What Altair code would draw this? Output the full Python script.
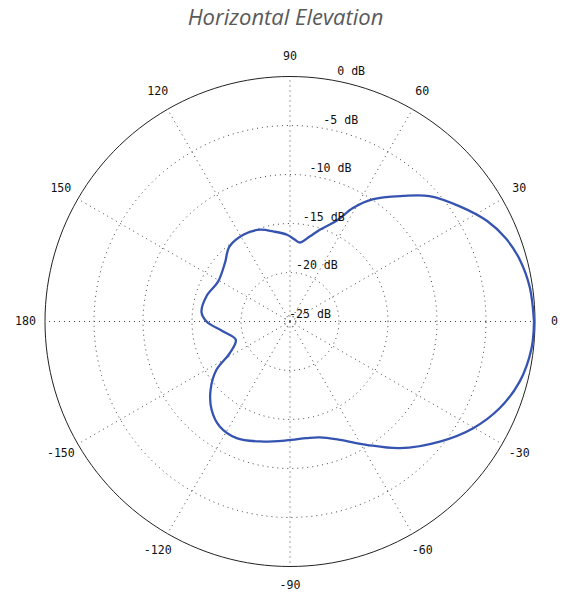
import altair as alt
import pandas as pd
import numpy as np

title_text = "Horizontal Elevation"

# measured antenna pattern (angle in degrees, gain in dB)
angles_deg = [0, 8, 15, 21, 27, 34, 42, 48, 56, 61, 65, 72, 77, 83, 87, 92,
              100.6, 108, 118, 129, 138, 151, 163, 174, 180, 188.5, 198.7,
              207.7, 213.3, 220.7, 228.4, 236.2, 245.4, 255.9, 268.3, 278.1,
              284.4, 292.8, 301.8, 310.9, 321.3, 329.8, 337.6, 345.4, 353.7, 360]
gain_db = [-0.1, -0.28, -0.71, -1.39, -2.42, -4.03, -5.87, -7.76, -9.96, -11.76,
           -13.6, -15.16, -16.1, -16.88, -16.6, -16.14, -15.65, -15.15, -14.95,
           -15.18, -16.07, -16.61, -16.1, -15.92, -16.48, -18.11, -19.16, -18.06,
           -16.02, -14.31, -12.95, -12.11, -11.91, -12.38, -12.86, -12.98, -12.79,
           -11.9, -10.2, -7.9, -5.41, -3.37, -1.84, -0.77, -0.2, -0.1]

# grid
ring_db = [-24.4, -20, -15, -10, -5]
label_db = [-25, -20, -15, -10, -5, 0]
label_db_text = ["-25 dB", "-20 dB", "-15 dB", "-10 dB", "-5 dB", "0 dB"]
spoke_deg = [0, 30, 60, 90, 120, 150, 180, 210, 240, 270, 300, 330]
spoke_text = ["0", "30", "60", "90", "120", "150", "180", "-150", "-120", "-90", "-60", "-30"]

DB_MIN = -25.0
W, H = 551, 586
PX = 245.0             # pixels per unit radius
CX, CY = 282.0, 313.5  # centre inside the plot area

xs = alt.Scale(domain=[-CX / PX, (W - CX) / PX], nice=False, zero=False)
ys = alt.Scale(domain=[-(H - CY) / PX, CY / PX], nice=False, zero=False)

X = alt.X("x:Q", scale=xs, axis=None)
Y = alt.Y("y:Q", scale=ys, axis=None)

FONT = "DejaVu Sans Mono"

# data frames
curve_df = pd.DataFrame({"ang": angles_deg, "db": gain_db, "i": range(len(angles_deg))})

circ_t = np.arange(0, 361, 2)
rings_df = pd.DataFrame([{"db": d, "ang": t, "i": k} for d in ring_db for k, t in enumerate(circ_t)])
outer_df = pd.DataFrame({"db": [0.0] * len(circ_t), "ang": circ_t, "i": range(len(circ_t))})
spokes_df = pd.DataFrame([{"ang": a, "r": r} for a in spoke_deg for r in (0.0, 1.0)])
spoke_lbl_df = pd.DataFrame({"ang": spoke_deg, "txt": spoke_text})
db_lbl_df = pd.DataFrame({"db": label_db, "txt": label_db_text})

polar_x = f"((datum.db - ({DB_MIN})) / ({-DB_MIN})) * cos(datum.ang * PI / 180)"
polar_y = f"((datum.db - ({DB_MIN})) / ({-DB_MIN})) * sin(datum.ang * PI / 180)"

rings = alt.Chart(rings_df).transform_calculate(x=polar_x, y=polar_y).mark_line(
    color="#444", strokeWidth=1, strokeDash=[1, 4]
).encode(x=X, y=Y, detail="db:N", order="i:Q")

spokes = alt.Chart(spokes_df).transform_calculate(
    x="datum.r * cos(datum.ang * PI / 180)", y="datum.r * sin(datum.ang * PI / 180)"
).mark_line(color="#444", strokeWidth=1, strokeDash=[1, 4]).encode(
    x=X, y=Y, detail="ang:N", order="r:Q")

outer = alt.Chart(outer_df).transform_calculate(x=polar_x, y=polar_y).mark_line(
    color="#222", strokeWidth=1
).encode(x=X, y=Y, order="i:Q")

curve = alt.Chart(curve_df).transform_calculate(x=polar_x, y=polar_y).mark_line(
    color="#3553b0", strokeWidth=2.3, interpolate="catmull-rom"
).encode(x=X, y=Y, order="i:Q")

spoke_lbls = alt.Chart(spoke_lbl_df).transform_calculate(
    x="1.08 * cos(datum.ang * PI / 180)", y="1.08 * sin(datum.ang * PI / 180)"
).mark_text(font=FONT, fontSize=11.6, color="#111", align="center", baseline="middle").encode(
    x=X, y=Y, text="txt:N")

db_lbls = alt.Chart(db_lbl_df).transform_calculate(
    x=f"((datum.db - ({DB_MIN})) / ({-DB_MIN})) * cos(82 * PI / 180)",
    y=f"((datum.db - ({DB_MIN})) / ({-DB_MIN})) * sin(82 * PI / 180)",
).mark_text(font=FONT, fontSize=11.6, color="#111", align="right", baseline="alphabetic",
            dx=41, dy=-3.5).encode(x=X, y=Y, text="txt:N")

chart = alt.layer(rings, spokes, outer, curve, spoke_lbls, db_lbls).properties(
    width=W, height=H,
    title=alt.TitleParams(title_text, font="Open Sans", fontSize=22, fontStyle="italic",
                          fontWeight="normal", color="#5a5a5a", anchor="middle",
                          baseline="alphabetic", offset=-39, dx=2),
    autosize=alt.AutoSizeParams(type="none"),
    padding=0,
).configure_view(stroke=None)

chart.save("out.html", embed_options={"renderer": "svg", "actions": False})
